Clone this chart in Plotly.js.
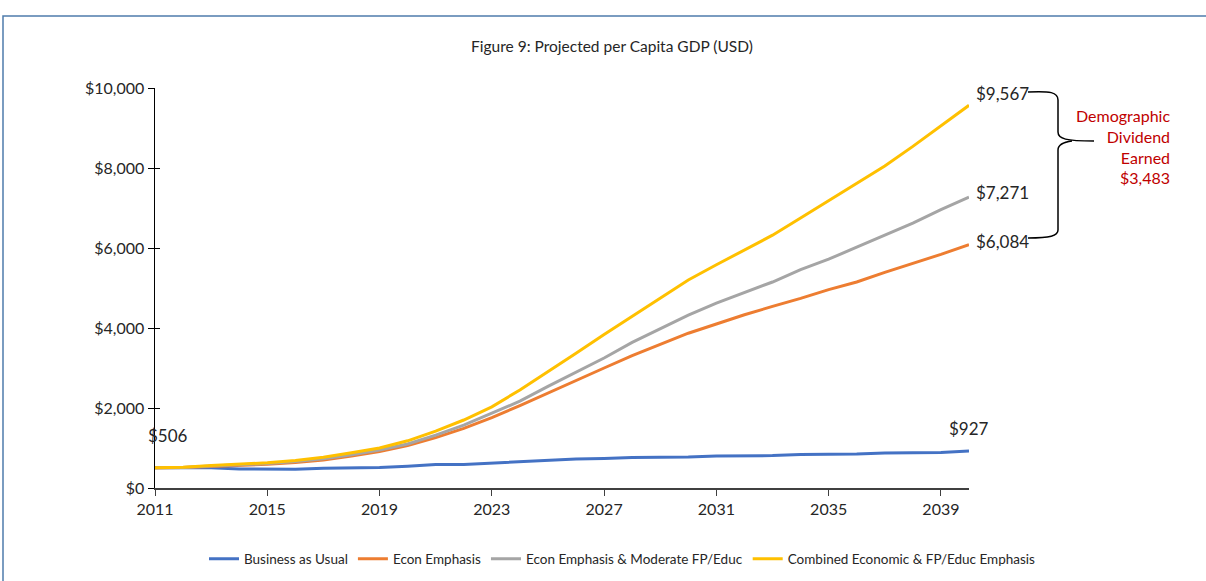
<!DOCTYPE html>
<html>
<head>
<meta charset="utf-8">
<script src="https://cdn.plot.ly/plotly-3.0.1.min.js"></script>
<style>html,body{margin:0;padding:0;background:#fff;}#chart{width:1206px;height:581px;}</style>
</head>
<body>
<div id="chart"></div>
<script>
const years = [2011,2012,2013,2014,2015,2016,2017,2018,2019,2020,2021,2022,2023,2024,2025,2026,2027,2028,2029,2030,2031,2032,2033,2034,2035,2036,2037,2038,2039,2040];
const businessAsUsual = [506,500,505,475,470,470,495,505,510,545,585,590,625,655,695,725,740,765,770,775,800,805,810,840,845,850,875,880,890,927];
const econEmphasis = [506,510,540,565,595,640,700,800,910,1060,1260,1490,1760,2060,2380,2700,3000,3310,3600,3870,4100,4330,4540,4740,4960,5150,5390,5610,5840,6084];
const econModerate = [506,515,550,575,610,660,730,830,950,1100,1320,1570,1860,2170,2540,2900,3250,3640,3980,4320,4620,4890,5150,5460,5720,6020,6330,6620,6960,7271];
const combined = [506,520,560,590,630,690,770,880,1000,1180,1420,1700,2030,2450,2900,3370,3840,4300,4750,5200,5580,5950,6320,6750,7180,7600,8050,8540,9050,9567];
const seriesNames = ["Business as Usual","Econ Emphasis","Econ Emphasis & Moderate FP/Educ","Combined Economic & FP/Educ Emphasis"];
const xTicks = [2011,2015,2019,2023,2027,2031,2035,2039];
const yTicks = [0,2000,4000,6000,8000,10000];
const yTickText = ["$0","$2,000","$4,000","$6,000","$8,000","$10,000"];

const colors = ["#4472C4","#ED7D31","#A5A5A5","#FFC000"];
const FONT = "Lato, 'Open Sans', sans-serif";
const series = [businessAsUsual, econEmphasis, econModerate, combined];
const traces = series.map((s,i)=>({
  x: years, y: s, type:'scatter', mode:'lines', name: seriesNames[i],
  line:{color:colors[i], width:3}, hoverinfo:'skip'
}));

// pixel -> paper helpers for the decoration (plot area 155..969 x 88..488)
const L=155, R=969, T=88, B=488;
const px = v => (v-L)/(R-L);
const py = v => (B-v)/(B-T);
const fmt = v => "$" + v.toLocaleString('en-US');
const n = years.length-1;
const dividend = combined[n] - econEmphasis[n];

const brace = `M ${px(1028)} ${py(92)} C ${px(1050)} ${py(91)}, ${px(1058)} ${py(92)}, ${px(1058)} ${py(100)} L ${px(1058)} ${py(132)} C ${px(1058)} ${py(139)}, ${px(1066)} ${py(141)}, ${px(1094)} ${py(141)} M ${px(1072)} ${py(141)} C ${px(1064)} ${py(142)}, ${px(1058)} ${py(144)}, ${px(1058)} ${py(150)} L ${px(1058)} ${py(230)} C ${px(1058)} ${py(236)}, ${px(1050)} ${py(238)}, ${px(1028)} ${py(238)}`;

const TXT = '#262626';
const annFont = {family:FONT, size:17, color:TXT};
const layout = {
  width:1206, height:581,
  margin:{l:L, r:1206-R, t:T, b:581-B, autoexpand:false},
  paper_bgcolor:'#fff', plot_bgcolor:'#fff',
  font:{family:FONT, size:15, color:TXT},
  title:{text:'Figure 9: Projected per Capita GDP (USD)', x:px(612), xref:'paper', xanchor:'center', y:1-47/581, yanchor:'middle', font:{family:FONT, size:15.5, color:TXT}},
  xaxis:{range:[2011,2040], tickvals:xTicks, ticktext:xTicks.map(String), showgrid:false, zeroline:false, automargin:false,
    showline:true, linecolor:'#404040', linewidth:1.5, ticks:'outside', ticklen:6, tickcolor:'#404040', tickfont:{size:16, color:TXT}},
  yaxis:{range:[0,10000], tickvals:yTicks, ticktext:yTickText, showgrid:false, zeroline:false, automargin:false,
    showline:true, linecolor:'#000', linewidth:1.5, ticks:'outside', ticklen:6, tickcolor:'#000', tickfont:{size:16, color:TXT}},
  yaxis2:{range:[0,10000], overlaying:'y', tickvals:yTicks, showticklabels:false, showgrid:false, zeroline:false,
    ticks:'inside', ticklen:5, tickcolor:'#000', showline:false},
  showlegend:true,
  legend:{orientation:'h', xref:'paper', x:px(1041), xanchor:'right', yref:'paper', y:py(559), yanchor:'middle', font:{family:FONT, size:13.5, color:TXT}, itemwidth:30, tracegroupgap:0, bgcolor:'rgba(0,0,0,0)'},
  annotations:[
    {x:years[0], y:businessAsUsual[0], text:fmt(businessAsUsual[0]), showarrow:false, xanchor:'center', yanchor:'middle', xshift:13, yshift:32, font:annFont},
    {x:years[n], y:businessAsUsual[n], text:fmt(businessAsUsual[n]), showarrow:false, xanchor:'center', yanchor:'middle', xshift:0, yshift:22, font:annFont},
    {x:years[n], y:combined[n], text:fmt(combined[n]), showarrow:false, xanchor:'left', yanchor:'middle', xshift:5, yshift:12, font:annFont},
    {x:years[n], y:econModerate[n], text:fmt(econModerate[n]), showarrow:false, xanchor:'left', yanchor:'middle', xshift:5, yshift:5, font:annFont},
    {x:years[n], y:econEmphasis[n], text:fmt(econEmphasis[n]), showarrow:false, xanchor:'left', yanchor:'middle', xshift:5, yshift:3, font:annFont},
    {xref:'paper', yref:'paper', x:px(1172), y:py(146), text:'Demographic<br>Dividend<br>Earned<br>'+fmt(dividend), showarrow:false, xanchor:'right', yanchor:'middle', align:'right', font:{family:FONT, size:16, color:'#C00000'}}
  ],
  shapes:[
    {type:'path', xref:'paper', yref:'paper', path:brace, line:{color:'#000', width:1.5}},
    {type:'rect', xref:'paper', yref:'paper', x0:px(3), y0:py(16), x1:px(1230), y1:py(620), line:{color:'#4F7CAC', width:1.5}, layer:'below'}
  ]
};
traces.push({x:[2011], y:[0], yaxis:'y2', type:'scatter', mode:'markers', marker:{opacity:0}, showlegend:false, hoverinfo:'skip'});
Plotly.newPlot('chart', traces, layout, {displayModeBar:false, staticPlot:true});
</script>
</body>
</html>
